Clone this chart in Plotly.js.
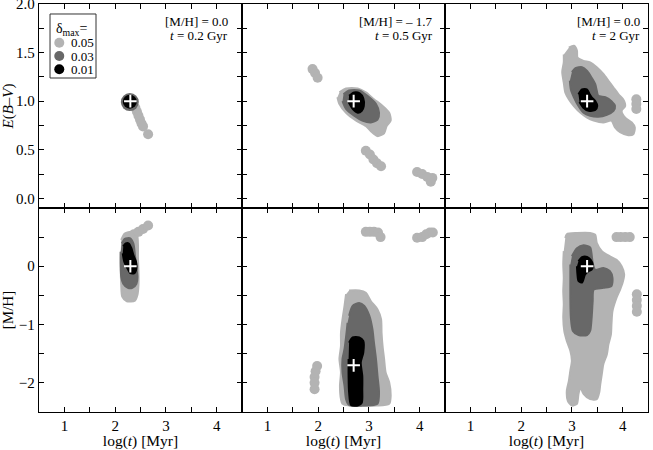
<!DOCTYPE html>
<html><head><meta charset="utf-8">
<script src="https://cdn.plot.ly/plotly-3.0.1.min.js"></script>
<style>body{margin:0;background:#fff}#chart{width:653px;height:450px}</style>
</head><body><div id="chart"></div>
<script>
// ---------- DATA ----------
// Panel A: [M/H]=0.0, t=0.2 Gyr  (E(B-V) vs log t)
const A_light_x = [2.35, 2.40, 2.43, 2.46, 2.49, 2.52, 2.55, 2.65];
const A_light_y = [0.96, 0.93, 0.89, 0.85, 0.81, 0.77, 0.74, 0.66];
const A_mid_x = [2.29];
const A_mid_y = [0.99];
const A_dark_x = [2.29];
const A_dark_y = [0.995];
const A_best_x = [2.3], A_best_y = [1.0];

// Panel B: [M/H]=-1.7, t=0.5 Gyr (E(B-V) vs log t)
const B_light_x = [2.42,2.55,2.78,2.94,3.10,3.27,3.40,3.43,3.35,3.30,3.17,3.04,2.94,2.75,2.55,2.42,2.38];
const B_light_y = [1.09,1.13,1.13,1.09,1.02,0.95,0.88,0.80,0.745,0.67,0.64,0.69,0.745,0.80,0.88,0.97,1.04];
const B_lightDots_x = [1.89,1.94,1.99, 2.94,3.02,3.09,3.16,3.24, 3.95,4.05,4.15,4.22,4.25];
const B_lightDots_y = [1.33,1.29,1.24, 0.49,0.45,0.40,0.36,0.33, 0.27,0.25,0.22,0.17,0.21];
const B_mid_x = [2.50,2.61,2.81,2.97,3.14,3.20,3.17,3.04,2.87,2.71,2.55,2.48];
const B_mid_y = [1.07,1.11,1.11,1.055,0.97,0.88,0.81,0.78,0.80,0.85,0.92,1.00];
const B_dark_x = [2.61,2.71,2.82,2.89,2.90,2.86,2.78,2.68,2.60];
const B_dark_y = [1.055,1.09,1.08,1.03,0.95,0.90,0.88,0.92,0.99];
const B_best_x = [2.7], B_best_y = [1.0];

// Panel C: [M/H]=0.0, t=2 Gyr (E(B-V) vs log t)
const C_light_x = [2.94,3.04,3.10,3.11,3.23,3.36,3.49,3.62,3.72,3.82,3.92,4.01,4.05,3.98,4.05,4.18,4.24,4.21,4.11,3.95,3.85,3.78,3.62,3.43,3.30,3.17,3.04,2.94,2.87,2.84,2.81,2.84,2.84];
const C_light_y = [1.55,1.57,1.52,1.45,1.415,1.40,1.35,1.28,1.21,1.14,1.07,1.02,0.95,0.90,0.83,0.78,0.73,0.66,0.65,0.68,0.73,0.80,0.78,0.80,0.83,0.88,0.95,1.02,1.09,1.19,1.30,1.40,1.48];
const C_lightDots_x = [4.27,4.27,4.27];
const C_lightDots_y = [1.02,0.97,0.92];
const C_mid_x = [3.00,3.07,3.20,3.30,3.39,3.46,3.49,3.52,3.66,3.78,3.85,3.82,3.69,3.52,3.36,3.23,3.13,3.04,2.98,2.96];
const C_mid_y = [1.30,1.34,1.35,1.31,1.24,1.175,1.11,1.055,1.04,1.00,0.95,0.90,0.86,0.84,0.85,0.88,0.95,1.04,1.12,1.21];
const C_dark_x = [3.13,3.20,3.30,3.35,3.39,3.46,3.50,3.46,3.33,3.22,3.15];
const C_dark_y = [1.07,1.12,1.12,1.07,1.04,1.00,0.95,0.91,0.90,0.935,0.99];
const C_best_x = [3.3], C_best_y = [1.0];

// Panel D: [M/H]=0.0, t=0.2 Gyr ([M/H] vs log t)
const D_light_x = [2.12,2.19,2.33,2.43,2.45,2.45,2.46,2.46,2.44,2.39,2.23,2.14,2.12,2.11,2.11];
const D_light_y = [0.45,0.56,0.59,0.54,0.37,0.14,-0.09,-0.32,-0.49,-0.59,-0.60,-0.52,-0.32,0.02,0.25];
const D_lightDots_x = [2.29,2.37,2.46,2.55,2.65];
const D_lightDots_y = [0.50,0.55,0.59,0.64,0.70];
const D_mid_x = [2.13,2.19,2.29,2.36,2.39,2.42,2.44,2.42,2.34,2.25,2.16,2.12,2.11,2.11];
const D_mid_y = [0.39,0.47,0.48,0.39,0.19,-0.03,-0.18,-0.30,-0.37,-0.37,-0.30,-0.18,0.02,0.25];
const D_dark_x = [2.16,2.21,2.27,2.32,2.36,2.41,2.42,2.38,2.30,2.24,2.18,2.15];
const D_dark_y = [0.34,0.39,0.39,0.31,0.19,0.08,-0.03,-0.12,-0.12,-0.03,0.08,0.22];
const D_best_x = [2.3], D_best_y = [0.0];

// Panel E: [M/H]=-1.7, t=0.5 Gyr ([M/H] vs log t)
const E_light_x = [2.61,2.81,2.94,3.04,3.17,3.24,3.25,3.27,3.30,3.33,3.40,3.43,3.40,3.14,2.61,2.48,2.45,2.43,2.45,2.42,2.45,2.45,2.48,2.52,2.55];
const E_light_y = [-0.415,-0.415,-0.455,-0.60,-0.74,-0.91,-1.14,-1.37,-1.59,-1.82,-1.99,-2.22,-2.36,-2.39,-2.39,-2.36,-2.28,-2.05,-1.82,-1.59,-1.37,-1.14,-0.91,-0.68,-0.48];
const E_lightDots_x = [2.94,3.02,3.10,3.18,3.23, 3.95,4.05,4.13,4.20,4.26, 1.98,1.95,1.93,1.93,1.93];
const E_lightDots_y = [0.59,0.59,0.59,0.58,0.50, 0.49,0.50,0.55,0.58,0.58, -1.71,-1.80,-1.90,-2.00,-2.11];
const E_mid_x = [2.61,2.68,2.81,2.91,3.01,3.07,3.10,3.14,3.17,3.20,3.17,2.87,2.61,2.55,2.52,2.48,2.48,2.52,2.56,2.58];
const E_mid_y = [-0.85,-0.68,-0.63,-0.68,-0.85,-1.08,-1.31,-1.59,-1.88,-2.16,-2.36,-2.39,-2.38,-2.28,-2.05,-1.82,-1.59,-1.42,-1.14,-0.97];
const E_dark_x = [2.61,2.68,2.81,2.89,2.89,2.84,2.87,2.87,2.86,2.78,2.65,2.61,2.60,2.60];
const E_dark_y = [-1.31,-1.22,-1.22,-1.28,-1.48,-1.65,-1.88,-2.11,-2.34,-2.39,-2.38,-2.16,-1.88,-1.59];
const E_best_x = [2.7], E_best_y = [-1.7];

// Panel F: [M/H]=0.0, t=2 Gyr ([M/H] vs log t)
const F_light_x = [2.87,2.90,3.10,3.36,3.46,3.49,3.59,3.75,3.88,3.98,4.03,4.00,3.95,3.88,3.80,3.78,3.77,3.72,3.69,3.62,3.59,3.56,3.54,3.49,3.36,3.23,3.17,3.13,3.10,3.00,2.92,2.90,2.94,2.97,3.00,2.97,2.90,2.85,2.83,2.84,2.83,2.84,2.83,2.84];
const F_light_y = [0.485,0.55,0.57,0.57,0.54,0.40,0.26,0.17,0.11,0.0,-0.14,-0.28,-0.40,-0.54,-0.77,-1.00,-1.17,-1.34,-1.51,-1.68,-1.85,-2.02,-2.16,-2.28,-2.28,-2.19,-2.08,-2.19,-2.36,-2.39,-2.31,-2.14,-1.97,-1.79,-1.62,-1.45,-1.28,-1.11,-0.88,-0.65,-0.43,-0.20,0.03,0.26];
const F_lightDots_x = [3.88,3.96,4.05,4.14, 4.28,4.28,4.28,4.28];
const F_lightDots_y = [0.50,0.50,0.50,0.50, -0.48,-0.58,-0.68,-0.78];
const F_mid_x = [3.00,3.10,3.23,3.36,3.39,3.41,3.46,3.62,3.75,3.80,3.78,3.62,3.43,3.41,3.39,3.36,3.30,3.13,3.02,2.98,2.97,2.97,2.97];
const F_mid_y = [0.17,0.31,0.36,0.325,0.20,0.06,-0.06,-0.03,-0.085,-0.20,-0.34,-0.37,-0.40,-0.60,-0.88,-1.11,-1.18,-1.18,-1.11,-0.88,-0.54,-0.20,0.03];
const F_dark_x = [3.13,3.20,3.30,3.37,3.41,3.39,3.33,3.26,3.20,3.13,3.11,3.10];
const F_dark_y = [0.085,0.155,0.16,0.11,0.03,-0.06,-0.085,-0.14,-0.28,-0.25,-0.14,0.0];
const F_best_x = [3.3], F_best_y = [0.0];

// Labels
const deltaLevels = ['0.05', '0.03', '0.01'];
const panelLine1 = ['[M/H] = 0.0', '[M/H] = – 1.7', '[M/H] = 0.0'];
const panelLine2 = ['<i>t</i> = 0.2 Gyr', '<i>t</i> = 0.5 Gyr', '<i>t</i> = 2 Gyr'];

// ---------- STYLE ----------
const LIGHT = '#b3b3b3', MID = '#686868', DARK = '#000000';
const FONT = '"Liberation Serif", "Times New Roman", serif';

function poly(x, y, color, xa, ya) {
  return {type:'scatter', mode:'lines', x:x, y:y, xaxis:xa, yaxis:ya, fill:'toself',
    fillcolor:color, line:{color:color, width:2, shape:'spline', smoothing:0.7},
    hoverinfo:'skip', showlegend:false};
}
function dots(x, y, color, size, xa, ya) {
  return {type:'scatter', mode:'markers', x:x, y:y, xaxis:xa, yaxis:ya,
    marker:{color:color, size:size, line:{width:0}}, hoverinfo:'skip', showlegend:false};
}
function best(x, y, xa, ya) {
  return {type:'scatter', mode:'markers', x:x, y:y, xaxis:xa, yaxis:ya,
    marker:{symbol:'cross-thin', size:9, color:'white', line:{color:'white', width:2}},
    hoverinfo:'skip', showlegend:false};
}

const traces = [
  // A
  dots(A_light_x, A_light_y, LIGHT, 10, 'x', 'y'),
  dots(A_mid_x, A_mid_y, MID, 18, 'x', 'y'),
  dots(A_dark_x, A_dark_y, DARK, 14, 'x', 'y'),
  best(A_best_x, A_best_y, 'x', 'y'),
  // B
  poly(B_light_x, B_light_y, LIGHT, 'x2', 'y2'),
  dots(B_lightDots_x, B_lightDots_y, LIGHT, 10, 'x2', 'y2'),
  poly(B_mid_x, B_mid_y, MID, 'x2', 'y2'),
  poly(B_dark_x, B_dark_y, DARK, 'x2', 'y2'),
  best(B_best_x, B_best_y, 'x2', 'y2'),
  // C
  poly(C_light_x, C_light_y, LIGHT, 'x3', 'y3'),
  dots(C_lightDots_x, C_lightDots_y, LIGHT, 10, 'x3', 'y3'),
  poly(C_mid_x, C_mid_y, MID, 'x3', 'y3'),
  poly(C_dark_x, C_dark_y, DARK, 'x3', 'y3'),
  best(C_best_x, C_best_y, 'x3', 'y3'),
  // D
  poly(D_light_x, D_light_y, LIGHT, 'x4', 'y4'),
  dots(D_lightDots_x, D_lightDots_y, LIGHT, 10, 'x4', 'y4'),
  poly(D_mid_x, D_mid_y, MID, 'x4', 'y4'),
  poly(D_dark_x, D_dark_y, DARK, 'x4', 'y4'),
  best(D_best_x, D_best_y, 'x4', 'y4'),
  // E
  poly(E_light_x, E_light_y, LIGHT, 'x5', 'y5'),
  dots(E_lightDots_x, E_lightDots_y, LIGHT, 10, 'x5', 'y5'),
  poly(E_mid_x, E_mid_y, MID, 'x5', 'y5'),
  poly(E_dark_x, E_dark_y, DARK, 'x5', 'y5'),
  best(E_best_x, E_best_y, 'x5', 'y5'),
  // F
  poly(F_light_x, F_light_y, LIGHT, 'x6', 'y6'),
  dots(F_lightDots_x, F_lightDots_y, LIGHT, 10, 'x6', 'y6'),
  poly(F_mid_x, F_mid_y, MID, 'x6', 'y6'),
  poly(F_dark_x, F_dark_y, DARK, 'x6', 'y6'),
  best(F_best_x, F_best_y, 'x6', 'y6')
];

const baseAxis = {showline:true, mirror:'ticks', linecolor:'black', linewidth:1.2,
  ticks:'inside', ticklen:5, tickwidth:1, tickcolor:'black', showgrid:false, zeroline:false,
  fixedrange:true, ticklabeloverflow:'allow', tickfont:{family:FONT, size:15, color:'black'}};
function xAx(col, row) {
  const dom = [[0,1/3],[1/3,2/3],[2/3,1]][col];
  const ax = Object.assign({}, baseAxis, {domain:dom, range:[0.5,4.5], tickmode:'linear', tick0:0, dtick:1,
    minor:{tick0:0, dtick:0.5, ticks:'inside', ticklen:5, tickwidth:1, tickcolor:'black', showgrid:false},
    showticklabels: row === 1});
  if (row === 1) ax.title = {text:'log(<i>t</i>) [Myr]', font:{family:FONT, size:15.5, color:'black'}, standoff:3};
  return ax;
}
function yAx(col, row) {
  const top = row === 0;
  const ax = Object.assign({}, baseAxis, {domain: top ? [0.5,1] : [0,0.5],
    range: top ? [-0.1, 2.0001] : [-2.5, 0.999], tickmode:'linear', tick0:0,
    dtick: top ? 0.5 : 1, tickformat: top ? '.1f' : 'd',
    minor:{tick0:0, dtick: top ? 0.25 : 0.5, ticks:'inside', ticklen:5, tickwidth:1, tickcolor:'black', showgrid:false},
    showticklabels: col === 0});
  if (col === 0) ax.title = {text: top ? '<i>E</i>(<i>B</i>–<i>V</i>)' : '[M/H]',
    font:{family:FONT, size:15, color:'black'}, standoff:2};
  return ax;
}

const layout = {
  width:653, height:450, margin:{l:39, r:5, t:4, b:38},
  paper_bgcolor:'white', plot_bgcolor:'white', showlegend:false,
  font:{family:FONT, size:15, color:'black'},
  xaxis: Object.assign(xAx(0,0), {anchor:'y'}),  yaxis: Object.assign(yAx(0,0), {anchor:'x'}),
  xaxis2: Object.assign(xAx(1,0), {anchor:'y2'}), yaxis2: Object.assign(yAx(1,0), {anchor:'x2'}),
  xaxis3: Object.assign(xAx(2,0), {anchor:'y3'}), yaxis3: Object.assign(yAx(2,0), {anchor:'x3'}),
  xaxis4: Object.assign(xAx(0,1), {anchor:'y4'}), yaxis4: Object.assign(yAx(0,1), {anchor:'x4'}),
  xaxis5: Object.assign(xAx(1,1), {anchor:'y5'}), yaxis5: Object.assign(yAx(1,1), {anchor:'x5'}),
  xaxis6: Object.assign(xAx(2,1), {anchor:'y6'}), yaxis6: Object.assign(yAx(2,1), {anchor:'x6'}),
  annotations: [],
  shapes: []
};

// Model labels, top-right of each upper panel
const labelRight = [0.3136, 0.650, 0.9897];
for (let i = 0; i < 3; i++) {
  layout.annotations.push({xref:'paper', yref:'paper', x:labelRight[i], y:0.958, xanchor:'right', yanchor:'middle',
    text:panelLine1[i], showarrow:false, font:{family:FONT, size:13, color:'black'}});
  layout.annotations.push({xref:'paper', yref:'paper', x:labelRight[i], y:0.924, xanchor:'right', yanchor:'middle',
    text:panelLine2[i], showarrow:false, font:{family:FONT, size:13, color:'black'}});
}

// Legend (delta_max levels) drawn in panel 1
const legColors = [LIGHT, MID, DARK];
const legY = [0.9051, 0.8725, 0.8400];
layout.shapes.push({type:'rect', xref:'paper', yref:'paper', x0:0.0181, x1:0.0936, y0:0.8186, y1:0.9755,
  line:{color:'#333', width:1}, fillcolor:'white', layer:'above'});
layout.annotations.push({xref:'paper', yref:'paper', x:0.025, y:0.938, xanchor:'left', yanchor:'middle',
  text:'δ<sub>max</sub>=', showarrow:false, font:{family:FONT, size:14, color:'black'}});
for (let i = 0; i < 3; i++) {
  layout.shapes.push({type:'circle', xref:'paper', yref:'paper', xsizemode:'pixel', ysizemode:'pixel',
    xanchor:0.0333, yanchor:legY[i], x0:-5, x1:5, y0:-5, y1:5, fillcolor:legColors[i], line:{width:0}, layer:'above'});
  layout.annotations.push({xref:'paper', yref:'paper', x:0.0493, y:legY[i], xanchor:'left', yanchor:'middle',
    text:deltaLevels[i], showarrow:false, font:{family:FONT, size:13, color:'black'}});
}

Plotly.newPlot('chart', traces, layout, {displayModeBar:false, staticPlot:true});
</script>
</body></html>
